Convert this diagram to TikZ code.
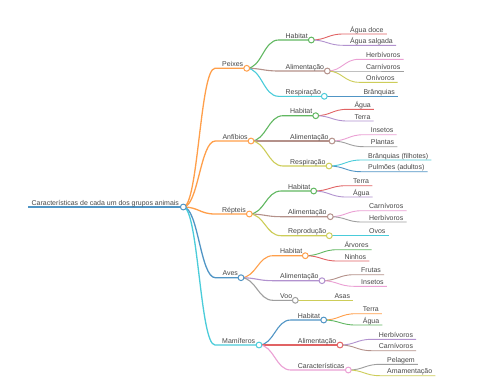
\documentclass[tikz,border=0pt]{standalone}
\usepackage{fontspec}
\setmainfont{Liberation Sans}
\pgfdeclarelayer{fg}
\pgfsetlayers{main,fg}
\definecolor{cA0}{HTML}{1F77B4}
\definecolor{cB0}{HTML}{FF7F0E}
\definecolor{cC0}{HTML}{2CA02C}
\definecolor{cD0}{HTML}{D62728}
\definecolor{cE0}{HTML}{9467BD}
\definecolor{cF0}{HTML}{8C564B}
\definecolor{cG0}{HTML}{E377C2}
\definecolor{cH0}{HTML}{7F7F7F}
\definecolor{cI0}{HTML}{BCBD22}
\definecolor{cJ0}{HTML}{17BECF}
\colorlet{cA}{cA0!78!white}
\colorlet{cB}{cB0!75!white}
\colorlet{cC}{cC0!75!white}
\colorlet{cD}{cD0!72!white}
\colorlet{cE}{cE0!72!white}
\colorlet{cF}{cF0!65!white}
\colorlet{cG}{cG0!70!white}
\colorlet{cH}{cH0!75!white}
\colorlet{cI}{cI0!75!white}
\colorlet{cJ}{cJ0!78!white}
\tikzset{
  lbl/.style={anchor=base west,inner sep=0pt,font=\fontsize{7}{8}\selectfont,text=black!72},
  dot/.style={circle,fill=white,line width=1bp,minimum size=5.8bp,inner sep=0pt},
}
% inner node: name, parent, text x, circle x, y, colour, line width, text
\newcommand\mmInner[8]{%
  \coordinate (#1-s) at ({#3-7},#5);
  \coordinate (#1) at (#4,#5);
  \draw[line width=#7,draw=#6] (#2) .. controls +(15,0) and +(-15,0) .. (#1-s) -- (#1);
  \node[lbl] (#1-t) at (#3,{#5-2}) {#8};
  \begin{pgfonlayer}{fg}\node[dot,draw=#6] (#1-c) at (#1) {};\end{pgfonlayer}
}
% leaf: name, parent, text x, y, colour, text
\newcommand\mmLeaf[6]{%
  \node[lbl] (#1-t) at (#3,{#4-2}) {#6};
  \coordinate (#1-s) at ({#3-7},#4);
  \coordinate (#1) at (#1-t.east |- #1-s);
  \draw[line width=0.9bp,draw=#5] (#2) .. controls +(15,0) and +(-15,0) .. (#1-s) -- ([xshift=3bp]#1);
}
\begin{document}
\begin{tikzpicture}[x=1bp,y=-1bp]
\fill[white] (0,0) rectangle (480,384);
\useasboundingbox (0,0) rectangle (480,384);
% root
\coordinate (root-s) at (28,207);
\coordinate (root) at (183.3,207);
\draw[line width=1.6bp,draw=cA] (root-s) -- (root);
\node[lbl] (root-t) at (31.5,205) {Características de cada um dos grupos animais};
\begin{pgfonlayer}{fg}\node[dot,draw=cA] (root-c) at (root) {};\end{pgfonlayer}
% Peixes
\mmInner{pe}{root}{222}{246.7}{68.3}{cB}{1.3bp}{Peixes}
\mmInner{pe1}{pe}{285.5}{311.3}{40}{cC}{1.1bp}{Habitat}
\mmLeaf{pe11}{pe1}{350}{34}{cD}{Água doce}
\mmLeaf{pe12}{pe1}{350}{45.3}{cE}{Água salgada}
\mmInner{pe2}{pe}{285.5}{327.3}{71}{cF}{1.1bp}{Alimentação}
\mmLeaf{pe21}{pe2}{366}{59.3}{cG}{Herbívoros}
\mmLeaf{pe22}{pe2}{366}{71}{cH}{Carnívoros}
\mmLeaf{pe23}{pe2}{366}{82.3}{cI}{Onívoros}
\mmInner{pe3}{pe}{285.5}{324.3}{96.3}{cJ}{1.1bp}{Respiração}
\mmLeaf{pe31}{pe3}{363.3}{96.3}{cA}{Brânquias}
% Anfibios
\mmInner{an}{root}{222.3}{251}{141}{cB}{1.3bp}{Anfíbios}
\mmInner{an1}{an}{290}{315.7}{115.7}{cC}{1.1bp}{Habitat}
\mmLeaf{an11}{an1}{354.3}{109.3}{cD}{Água}
\mmLeaf{an12}{an1}{354.3}{121}{cE}{Terra}
\mmInner{an2}{an}{290}{332}{141}{cF}{1.1bp}{Alimentação}
\mmLeaf{an21}{an2}{370.7}{134.7}{cG}{Insetos}
\mmLeaf{an22}{an2}{370.7}{146.7}{cH}{Plantas}
\mmInner{an3}{an}{290}{329}{166}{cI}{1.1bp}{Respiração}
\mmLeaf{an31}{an3}{368}{160}{cJ}{Brânquias (filhotes)}
\mmLeaf{an32}{an3}{368}{171.7}{cA}{Pulmões (adultos)}
% Repteis
\mmInner{re}{root}{222}{249.3}{214}{cB}{1.3bp}{Répteis}
\mmInner{re1}{re}{288}{313.7}{191}{cC}{1.1bp}{Habitat}
\mmLeaf{re11}{re1}{353}{185.7}{cD}{Terra}
\mmLeaf{re12}{re1}{353}{197}{cE}{Água}
\mmInner{re2}{re}{288}{330.3}{216.7}{cF}{1.1bp}{Alimentação}
\mmLeaf{re21}{re2}{369}{210.7}{cG}{Carnívoros}
\mmLeaf{re22}{re2}{369}{222}{cH}{Herbívoros}
\mmInner{re3}{re}{288}{329.3}{235.7}{cI}{1.1bp}{Reprodução}
\mmLeaf{re31}{re3}{369}{235.7}{cJ}{Ovos}
% Aves
\mmInner{av}{root}{222.3}{241}{277.7}{cA}{1.3bp}{Aves}
\mmInner{av1}{av}{280}{305.3}{255.7}{cB}{1.1bp}{Habitat}
\mmLeaf{av11}{av1}{344.3}{249.7}{cC}{Árvores}
\mmLeaf{av12}{av1}{344.3}{261}{cD}{Ninhos}
\mmInner{av2}{av}{280}{322}{280.7}{cE}{1.1bp}{Alimentação}
\mmLeaf{av21}{av2}{361}{274.7}{cF}{Frutas}
\mmLeaf{av22}{av2}{361}{286.3}{cG}{Insetos}
\mmInner{av3}{av}{280}{295.3}{300.3}{cH}{1.1bp}{Voo}
\mmLeaf{av31}{av3}{334.3}{300.3}{cI}{Asas}
% Mamiferos
\mmInner{ma}{root}{222}{259}{345}{cJ}{1.3bp}{Mamíferos}
\mmInner{ma1}{ma}{297.7}{323.7}{320}{cA}{1.1bp}{Habitat}
\mmLeaf{ma11}{ma1}{362.7}{313.7}{cB}{Terra}
\mmLeaf{ma12}{ma1}{362.7}{325}{cC}{Água}
\mmInner{ma2}{ma}{297.7}{340}{345}{cD}{1.1bp}{Alimentação}
\mmLeaf{ma21}{ma2}{378.7}{339.3}{cE}{Herbívoros}
\mmLeaf{ma22}{ma2}{378.7}{350.7}{cF}{Carnívoros}
\mmInner{ma3}{ma}{297.7}{348.3}{370}{cG}{1.1bp}{Características}
\mmLeaf{ma31}{ma3}{387}{364.3}{cH}{Pelagem}
\mmLeaf{ma32}{ma3}{387}{375.7}{cI}{Amamentação}
\end{tikzpicture}
\end{document}
